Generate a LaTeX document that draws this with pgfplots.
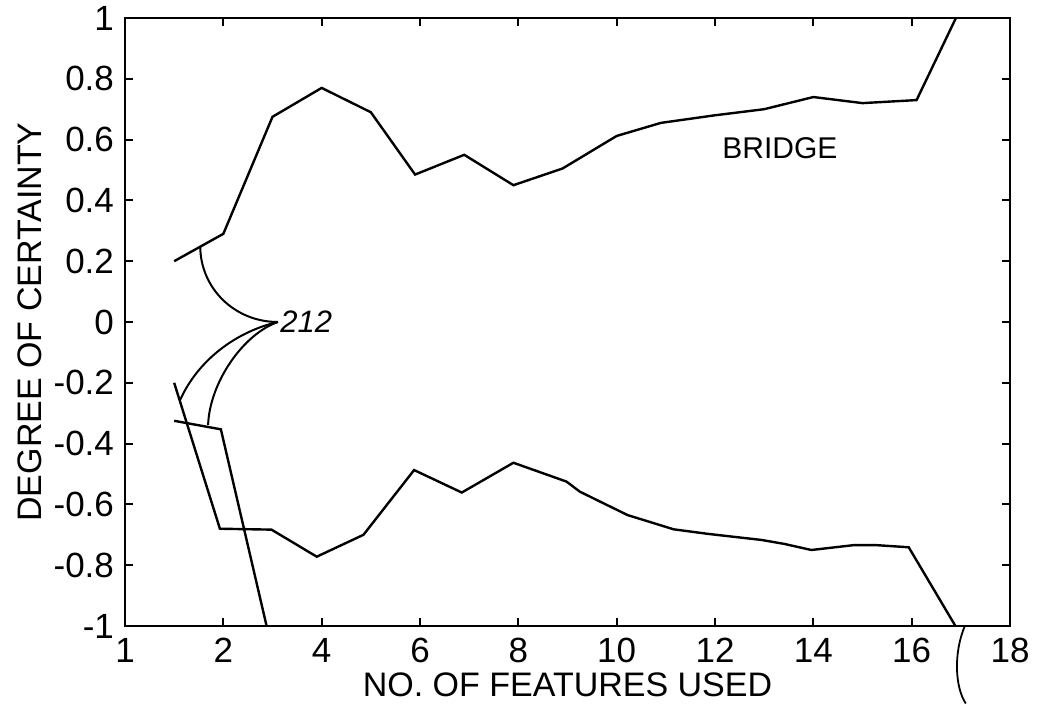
\documentclass[border=0pt]{standalone}
\usepackage{fontspec}
\setmainfont{Liberation Sans}
\usepackage{pgfplots}
\pgfplotsset{compat=1.18}
\begin{document}
\begin{tikzpicture}
\begin{axis}[
  name=ax,
  scale only axis,
  width=442.5pt, height=304pt,
  xmin=0, xmax=18, ymin=-1, ymax=1,
  xtick={0,2,4,6,8,10,12,14,16,18},
  xticklabels={1,2,4,6,8,10,12,14,16,18},
  ytick={-1,-0.8,-0.6,-0.4,-0.2,0,0.2,0.4,0.6,0.8,1},
  yticklabels={-1,-0.8,-0.6,-0.4,-0.2,0,0.2,0.4,0.6,0.8,1},
  tick align=inside,
  major tick length=4pt,
  tick style={black, line width=1pt},
  axis line style={line width=1.3pt},
  ticklabel style={font=\fontsize{17.5}{20}\selectfont},
  xticklabel style={yshift=-2.5pt},
  yticklabel style={xshift=-2pt},
  label style={font=\fontsize{17}{20}\selectfont},
  xlabel={NO. OF FEATURES USED},
  ylabel={DEGREE OF CERTAINTY},
  xlabel style={at={(axis description cs:0.5,-0.097)}, anchor=center},
  ylabel style={at={(axis description cs:-0.1073,0.5)}, anchor=center},
  clip=false,
]
% upper curve
\addplot[black, line width=1.2pt] coordinates {
 (1,0.20) (2,0.29) (3,0.675) (4,0.77) (5,0.69) (5.9,0.485) (6.9,0.55)
 (7.9,0.45) (8.9,0.505) (10,0.612) (10.9,0.655) (12,0.68) (13,0.70)
 (14,0.74) (15,0.72) (16.1,0.73) (16.9,1.0)};
% lower curve
\addplot[black, line width=1.2pt] coordinates {
 (1,-0.2) (1.93,-0.68) (2.98,-0.683) (3.9,-0.772) (4.85,-0.70) (5.88,-0.487)
 (6.85,-0.561) (7.9,-0.463) (8.98,-0.525) (9.25,-0.558) (10.22,-0.635)
 (11.16,-0.682) (11.86,-0.697) (12.95,-0.717) (13.41,-0.730) (13.96,-0.750)
 (14.82,-0.734) (15.28,-0.734) (15.94,-0.741) (16.89,-1.0)};
% second lower line
\addplot[black, line width=1.2pt] coordinates {
 (1,-0.325) (1.95,-0.353) (2.88,-1.0)};
% annotations
\node[anchor=center, font=\fontsize{15}{18}\selectfont] at (axis cs:13.32,0.572) {BRIDGE};
\node[anchor=west, inner sep=1pt, font=\fontsize{15.5}{18}\selectfont\itshape] at (axis cs:3.11,0) {212};
\draw[line width=1pt] (axis cs:1.53,0.25) .. controls (axis cs:1.53,0.111) and (axis cs:2.23,0) .. (axis cs:3.11,0);
\draw[line width=1pt] (axis cs:3.11,0) .. controls (axis cs:2.3,-0.03) and (axis cs:1.5,-0.12) .. (axis cs:1.12,-0.257);
\draw[line width=1pt] (axis cs:3.11,0) .. controls (axis cs:2.4,-0.04) and (axis cs:1.72,-0.2) .. (axis cs:1.69,-0.339);
\draw[line width=0.9pt] (axis cs:17.08,-1.0) .. controls (axis cs:16.85,-1.09) and (axis cs:16.88,-1.2) .. (axis cs:17.1,-1.255);
\end{axis}
\pgfresetboundingbox
\path ([shift={(-62.5pt,-40.5pt)}]ax.south west) rectangle ([shift={(16pt,9pt)}]ax.north east);
\end{tikzpicture}
\end{document}
